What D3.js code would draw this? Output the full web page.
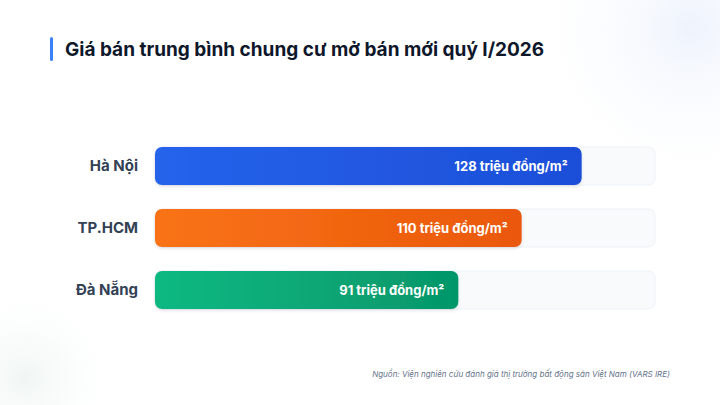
<!DOCTYPE html>
<html>
<head>
<meta charset="utf-8">
<script src="https://cdn.jsdelivr.net/npm/d3@7"></script>
<style>
  html, body { margin: 0; padding: 0; background: #ffffff; }
  svg { display: block; font-family: Inter, "Noto Sans", sans-serif; }
</style>
</head>
<body>
<div id="chart-area"></div>
<script>
// data
var cities = ["Hà Nội", "TP.HCM", "Đà Nẵng"];
var prices = [128, 110, 91];
var unitLabel = " triệu đồng/m²";
var title = "Giá bán trung bình chung cư mở bán mới quý I/2026";
var source = "Nguồn: Viện nghiên cứu đánh giá thị trường bất động sản Việt Nam (VARS IRE)";
var barColors = [["#2563eb", "#1d4ed8"], ["#f97316", "#ea580c"], ["#10b981", "#059669"]];

var width = 720;
var height = 405;

var svg = d3
  .select("#chart-area")
  .append("svg")
  .attr("width", width)
  .attr("height", height);

var defs = svg.append("defs");

// soft background glows
var glowTR = defs.append("radialGradient").attr("id", "glow-tr");
glowTR.append("stop").attr("offset", "0%").attr("stop-color", "#eef3fc").attr("stop-opacity", 1);
glowTR.append("stop").attr("offset", "100%").attr("stop-color", "#ffffff").attr("stop-opacity", 0);
var glowBL = defs.append("radialGradient").attr("id", "glow-bl");
glowBL.append("stop").attr("offset", "0%").attr("stop-color", "#f0f6f4").attr("stop-opacity", 1);
glowBL.append("stop").attr("offset", "100%").attr("stop-color", "#ffffff").attr("stop-opacity", 0);

svg.append("rect").attr("width", width).attr("height", height).attr("fill", "#ffffff");
svg.append("circle").attr("cx", 690).attr("cy", 28).attr("r", 170).attr("fill", "url(#glow-tr)");
svg.append("circle").attr("cx", 25).attr("cy", 378).attr("r", 100).attr("fill", "url(#glow-bl)");

// bar gradients
barColors.forEach(function (c, i) {
  var g = defs.append("linearGradient").attr("id", "bar-grad-" + i)
    .attr("x1", "0%").attr("x2", "100%").attr("y1", "0%").attr("y2", "0%");
  g.append("stop").attr("offset", "0%").attr("stop-color", c[0]);
  g.append("stop").attr("offset", "100%").attr("stop-color", c[1]);
});

var shadow = defs.append("filter").attr("id", "bar-shadow")
  .attr("x", "-10%").attr("y", "-30%").attr("width", "120%").attr("height", "170%");
shadow.append("feDropShadow").attr("dx", 0).attr("dy", 1.5).attr("stdDeviation", 1.5)
  .attr("flood-color", "#0f172a").attr("flood-opacity", 0.12);

// title
svg.append("rect").attr("x", 50).attr("y", 37).attr("width", 3).attr("height", 24)
  .attr("rx", 1.5).attr("fill", "#3b82f6");
svg.append("text")
  .attr("x", 65).attr("y", 56)
  .attr("font-size", 19).attr("font-weight", 700).attr("fill", "#0f172a")
  .text(title);

// scales
var x = d3.scaleLinear().domain([0, 150]).range([155, 655]);
var y = d3.scaleBand().domain(cities).range([147, 309]).paddingInner(24 / 62).paddingOuter(0);

var rows = svg.selectAll(".row")
  .data(cities.map(function (c, i) { return { city: c, price: prices[i], i: i }; }))
  .join("g")
  .attr("class", "row");

// track
rows.append("rect")
  .attr("x", x(0)).attr("y", function (d) { return y(d.city); })
  .attr("width", x(150) - x(0)).attr("height", y.bandwidth())
  .attr("rx", 7)
  .attr("fill", "#f8fafc").attr("stroke", "#edf1f6").attr("stroke-width", 1);

// bar
rows.append("rect")
  .attr("x", x(0)).attr("y", function (d) { return y(d.city); })
  .attr("width", function (d) { return x(d.price) - x(0); })
  .attr("height", y.bandwidth())
  .attr("rx", 7)
  .attr("fill", function (d) { return "url(#bar-grad-" + d.i + ")"; })
  .attr("filter", "url(#bar-shadow)");

// value labels
rows.append("text")
  .attr("x", function (d) { return x(d.price) - 14; })
  .attr("y", function (d) { return y(d.city) + y.bandwidth() / 2; })
  .attr("dy", "0.35em")
  .attr("text-anchor", "end")
  .attr("font-size", 13).attr("font-weight", 700).attr("fill", "#ffffff")
  .text(function (d) { return d.price + unitLabel; });

// category labels
rows.append("text")
  .attr("x", 138)
  .attr("y", function (d) { return y(d.city) + y.bandwidth() / 2; })
  .attr("dy", "0.35em")
  .attr("text-anchor", "end")
  .attr("font-size", 15).attr("font-weight", 700).attr("fill", "#334155")
  .text(function (d) { return d.city; });

// source
svg.append("text")
  .attr("x", 670).attr("y", 377)
  .attr("text-anchor", "end")
  .attr("font-size", 8).attr("font-style", "italic").attr("fill", "#64748b")
  .text(source);
</script>
</body>
</html>
